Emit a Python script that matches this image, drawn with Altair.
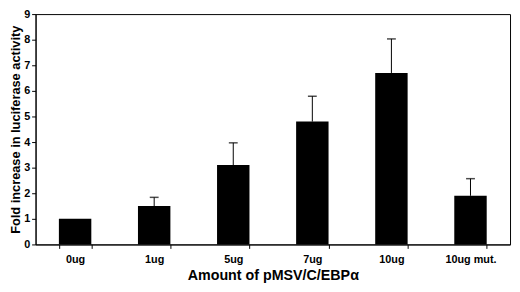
import altair as alt
import pandas as pd

categories = ["0ug", "1ug", "5ug", "7ug", "10ug", "10ug mut."]
fold = [1.0, 1.5, 3.1, 4.8, 6.7, 1.9]
err_top = [1.0, 1.84, 3.97, 5.79, 8.03, 2.57]
y_ticks = [0, 1, 2, 3, 4, 5, 6, 7, 8, 9]

df = pd.DataFrame({"cat": categories, "fold": fold, "err": err_top})
df_err = df[df.err > df.fold]

FONT = "Liberation Sans"

x_axis = alt.Axis(title="Amount of pMSV/C/EBPα", labelAngle=0,
                  tickBand="extent", tickSize=4, labelPadding=5,
                  titlePadding=5, titleFontSize=14.5)
y_axis = alt.Axis(title="Fold increase in luciferase activity",
                  values=y_ticks, tickCount=10, grid=False, tickSize=4,
                  labelOverlap=False, labelPadding=2, titlePadding=1,
                  titleFontSize=13)
x_scale = alt.Scale(paddingInner=0.59, paddingOuter=0.295)
y_scale = alt.Scale(domain=[0, 9], nice=False)

bars = alt.Chart(df).mark_bar(color="black").encode(
    x=alt.X("cat:N", sort=categories, scale=x_scale, axis=x_axis),
    y=alt.Y("fold:Q", scale=y_scale, axis=y_axis))
rule = alt.Chart(df_err).mark_rule(color="black", strokeWidth=1).encode(
    x=alt.X("cat:N", sort=categories, scale=x_scale, axis=x_axis),
    y=alt.Y("fold:Q", scale=y_scale, axis=y_axis), y2="err:Q")
cap = alt.Chart(df_err).mark_tick(color="black", orient="horizontal",
                                  size=9, thickness=1.5).encode(
    x=alt.X("cat:N", sort=categories, scale=x_scale, axis=x_axis),
    y=alt.Y("err:Q", scale=y_scale, axis=y_axis))

chart = (bars + rule + cap).properties(
    width=482, height=234,
    autosize=alt.AutoSizeParams(type="none"),
    padding={"left": 28, "top": 4, "right": 2, "bottom": 38},
).configure_view(stroke="black", strokeWidth=1).configure_axis(
    domainColor="black", tickColor="black", labelColor="black", titleColor="black",
    labelFont=FONT, titleFont=FONT, labelFontWeight="bold", titleFontWeight="bold",
    labelFontSize=11,
)

chart.save("out.html", embed_options={"renderer": "svg", "actions": False})
